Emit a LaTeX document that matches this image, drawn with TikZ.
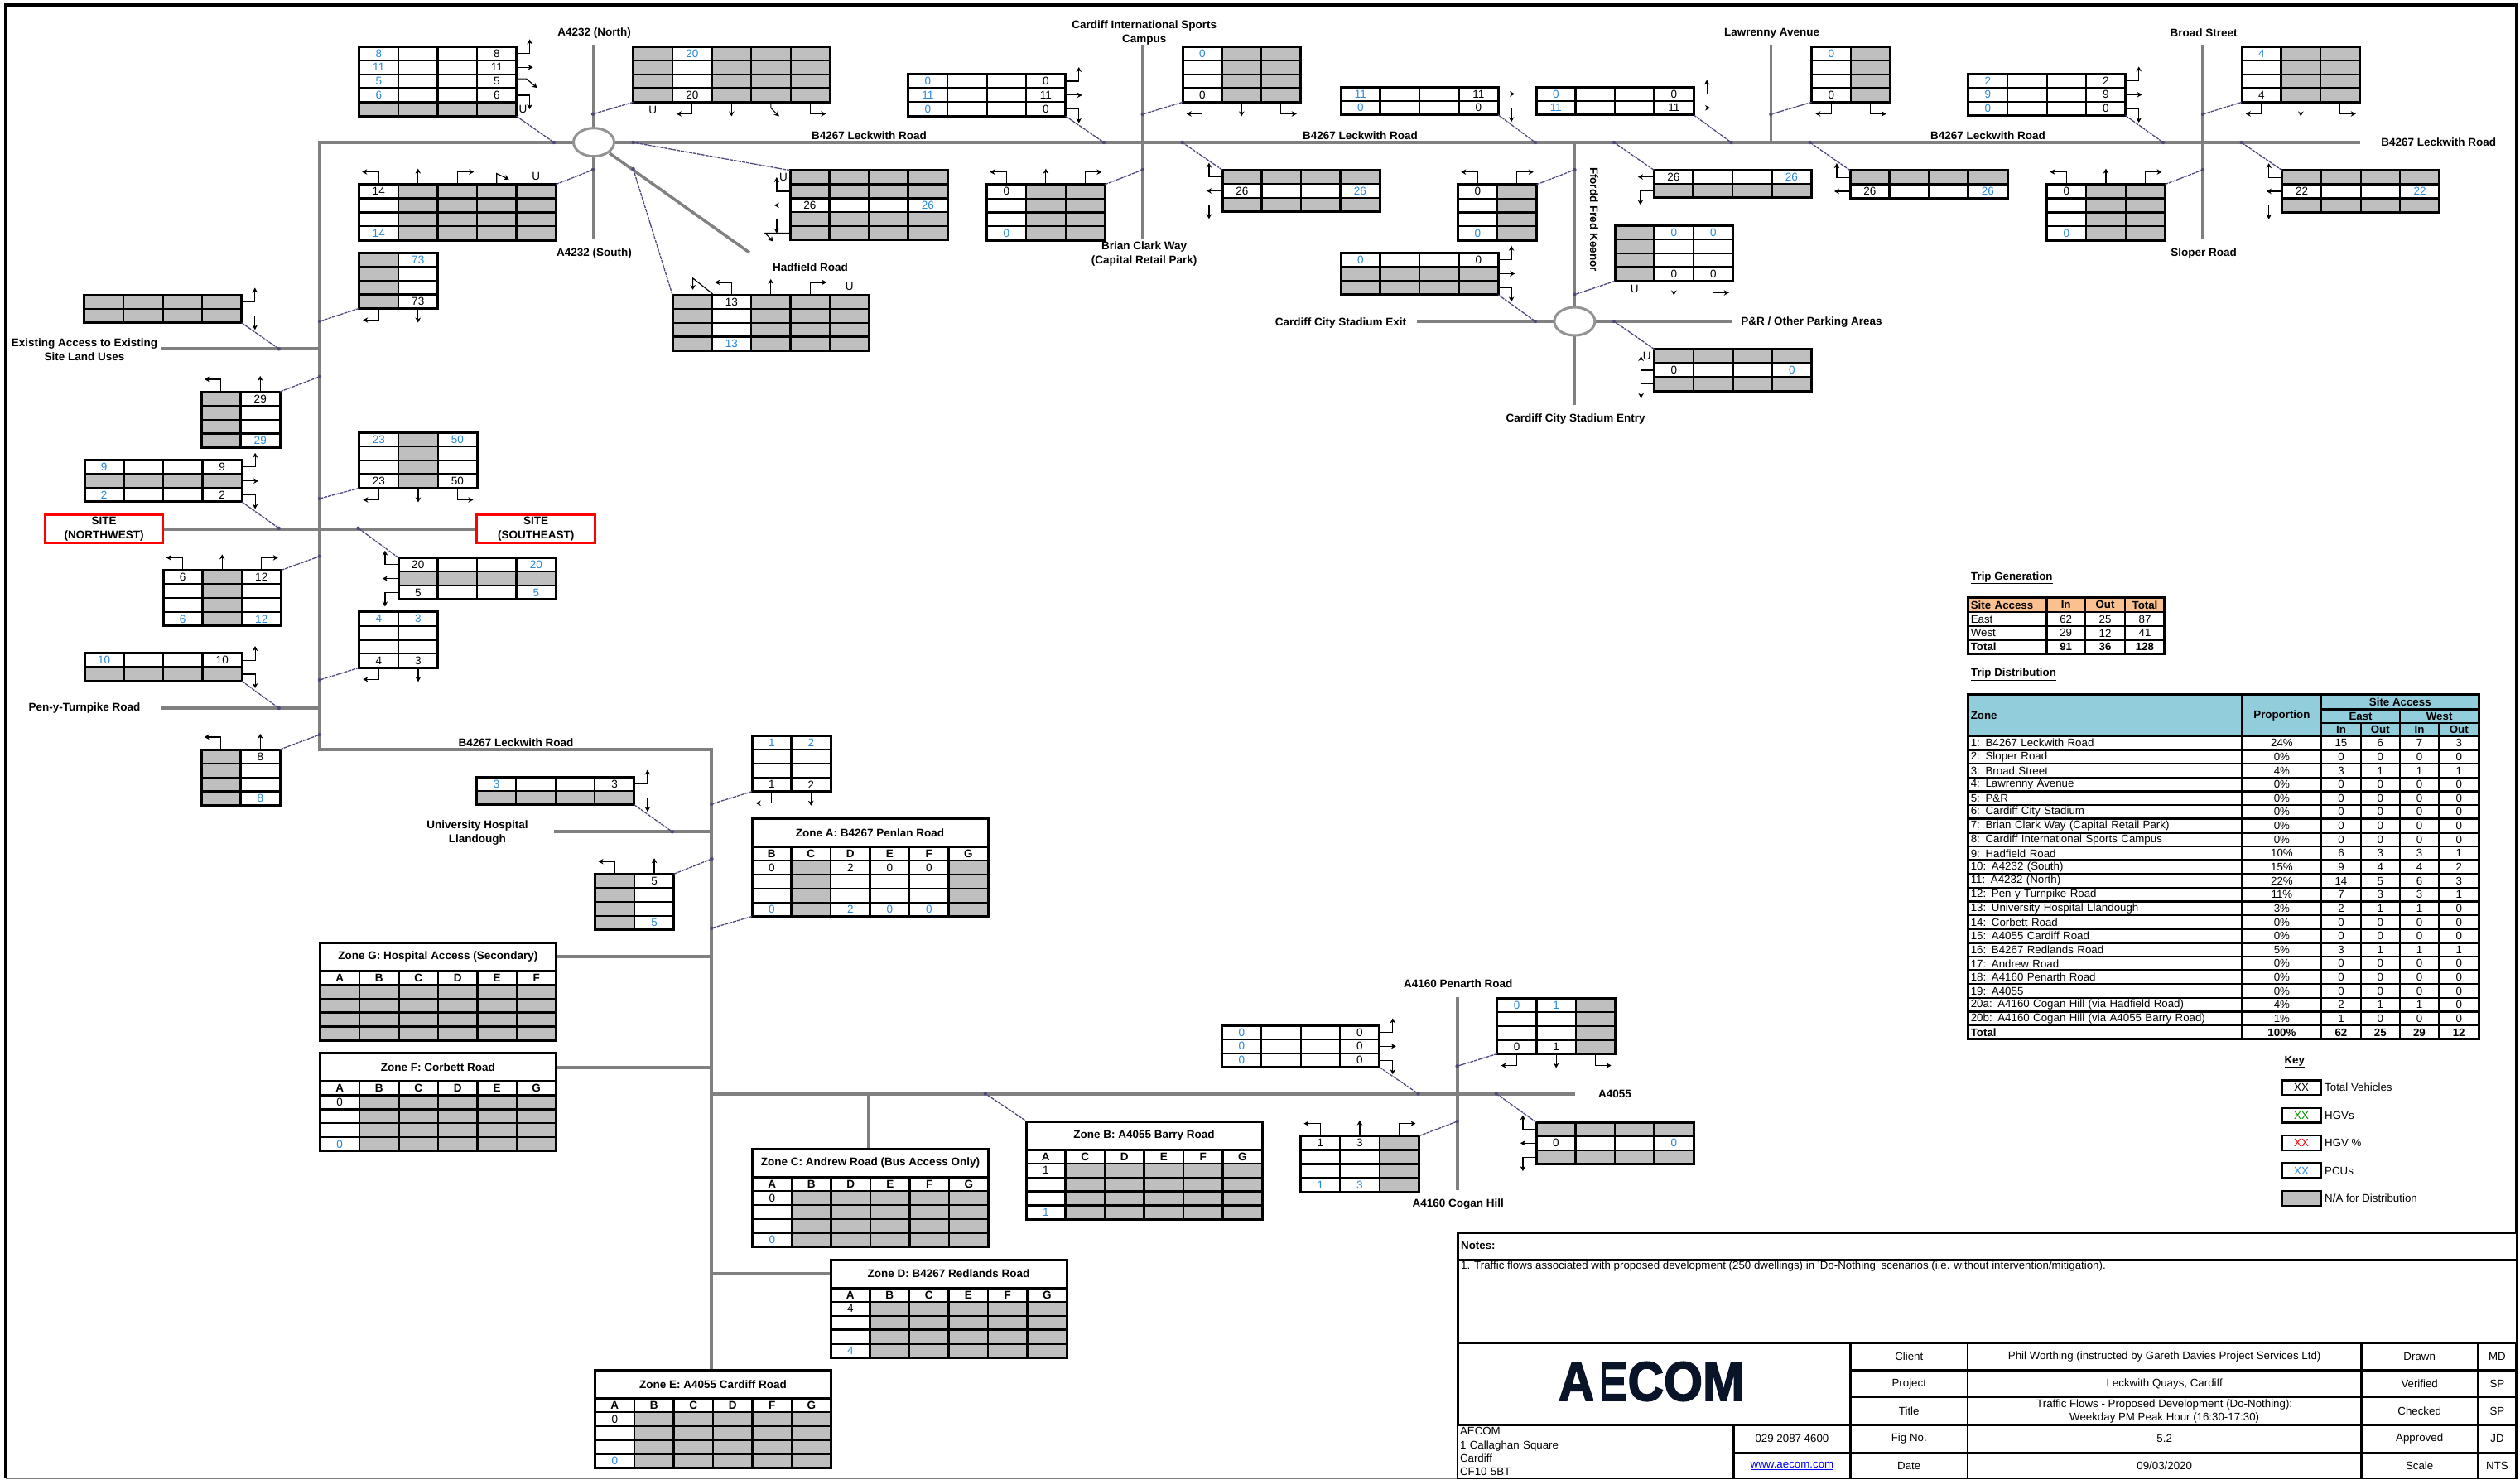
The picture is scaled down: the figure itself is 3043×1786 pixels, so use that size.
\documentclass[tikz,border=0pt]{standalone}
\usepackage{fontspec}
\usepackage{graphicx}
\setmainfont{Liberation Sans}
\newfontfamily\logofont[BoldFeatures={FakeBold=2.5}]{Liberation Sans}
\usetikzlibrary{arrows.meta,shapes.geometric,calc}
\definecolor{roadc}{HTML}{808080}
\definecolor{cellgrey}{HTML}{BFBFBF}
\definecolor{flowblue}{HTML}{2A88DC}
\definecolor{leadc}{HTML}{54457A}
\definecolor{hdrorange}{HTML}{FAC090}
\definecolor{hdrblue}{HTML}{92CDDC}
\definecolor{logoc}{HTML}{0A1428}
\newcommand\fs{\fontsize{13.5}{17}\selectfont}
\newcommand\fsb{\fontsize{13.3}{16}\selectfont}
\def\cw{47.5}\def\rh{16.85}
\tikzset{
 road/.style={draw=roadc,line width=4pt},
 rabout/.style={ellipse,draw=roadc!85,line width=3pt,fill=white,inner sep=0pt,minimum width=49pt,minimum height=34pt},
 leader/.style={draw=leadc,line width=1.3pt,dash pattern=on 4pt off 1pt},
 tarr/.style={draw=black,line width=1.2pt,-{Stealth[length=6pt,width=6.5pt]}},
 cell/.style={draw=black,line width=2.2pt,inner sep=0pt,minimum width=\cw pt,minimum height=\rh pt,font=\fs},
 cellg/.style={fill=cellgrey},
 cellw/.style={fill=white},
 cellk/.style={fill=white,text=black},
 cellb/.style={fill=white,text=flowblue},
 cellh/.style={fill=white,font=\fs\bfseries},
 tblbox/.style={draw=black,line width=3pt,inner sep=0pt,outer sep=0pt},
 lbl/.style={font=\fs\bfseries,align=center,inner sep=0pt},
 ulab/.style={font=\fs,inner sep=0pt},
 boxc/.style={draw=black,line width=2.4pt,inner sep=0pt,font=\fsb,align=center},
 lefttxt/.style={text width=\bw pt-6pt,inner xsep=3pt,align=left},
 sitebox/.style={draw=red,line width=2.5pt,fill=white,inner sep=0pt,font=\fs\bfseries,align=center,minimum width=143pt,minimum height=34pt},
 keybox/.style={boxc,line width=2.8pt},
 plain/.style={font=\fsb,inner sep=0pt},
}
\def\pcell#1#2\relax{\def\ctxt{#2}\ifx#1g\def\cst{cellg}\fi\ifx#1w\def\cst{cellw}\fi\ifx#1K\def\cst{cellk}\fi\ifx#1B\def\cst{cellb}\fi\ifx#1H\def\cst{cellh}\fi}
% name, x, y, cols, rows, data
\newcommand\tbl[6]{%
 \foreach \rw [count=\ri] in {#6} {%
  \foreach \cl [count=\ci] in \rw {%
   \edef\tmpc{\cl}\expandafter\pcell\tmpc\relax
   \node[cell,\cst] (#1-\ri-\ci) at ({#2+(\ci-.5)*\cw},{#3+(\ri-.5)*\rh}) {\ctxt};
  }%
 }%
 \node[tblbox,minimum width=#4*\cw pt,minimum height=#5*\rh pt] (#1) at ({#2+#4*\cw/2},{#3+#5*\rh/2}) {};
}
% optional style, name, x1,y1,x2,y2, text
\newcommand\bx[7][]{%
 \pgfmathsetmacro\bw{#5-#3}\pgfmathsetmacro\bh{#6-#4}%
 \node[boxc,minimum width=\bw pt,minimum height=\bh pt,#1] (#2) at ({(#3+#5)/2},{(#4+#6)/2}) {#7};
}
% name, x, y, title, rows (head row first)
\newcommand\zone[5]{%
 \bx[font=\fs\bfseries,line width=3pt,fill=white]{#1-t}{#2}{#3}{#2+6*\cw}{#3+34}{#4}
 \tbl{#1}{#2}{#3+34}{6}{5}{#5}
}
\newcommand\RU[1]{\draw[tarr] (#1.east) -- ++(15,0) -- ++(0,-17);}
\newcommand\RS[1]{\draw[tarr] (#1.east) -- ++(19,0);}
\newcommand\RD[1]{\draw[tarr] (#1.east) -- ++(15,0) -- ++(0,17);}
\newcommand\RG[1]{\draw[tarr] ([yshift=3pt]#1.east) -- ++(11,0) -- ++(13,11);}
\newcommand\BL[1]{\draw[tarr] (#1.south) -- ++(0,13) -- ++(-19,0);}
\newcommand\BS[1]{\draw[tarr] (#1.south) -- ++(0,16);}
\newcommand\BR[1]{\draw[tarr] (#1.south) -- ++(0,13) -- ++(19,0);}
\newcommand\BG[1]{\draw[tarr] (#1.south) -- ++(0,6) -- ++(10,10);}
\newcommand\TL[1]{\draw[tarr] (#1.north) -- ++(0,-14) -- ++(-20,0);}
\newcommand\TS[1]{\draw[tarr] (#1.north) -- ++(0,-18);}
\newcommand\TR[1]{\draw[tarr] (#1.north) -- ++(0,-14) -- ++(20,0);}
\newcommand\TG[1]{\draw[tarr] (#1.north) -- ++(0,-12) -- ++(15,7);}
\newcommand\LU[1]{\draw[tarr] (#1.west) -- ++(-15,0) -- ++(0,-17);}
\newcommand\LS[1]{\draw[tarr] (#1.west) -- ++(-18,0);}
\newcommand\LD[1]{\draw[tarr] (#1.west) -- ++(-15,0) -- ++(0,17);}
\newcommand\LG[1]{\draw[tarr] (#1.west) -- ++(-29,0) -- ++(10,10);}
\newcommand\lead[4]{\coordinate (#1) at (#3,#4); \draw[leader] (#2) -- (#1); \fill[leadc] (#1) circle (2.2pt);}
\begin{document}
\begin{tikzpicture}[x=1pt,y=-1pt]
\useasboundingbox (0,0) rectangle (3043,1786);
\fill[white] (0,0) rectangle (3043,1786);
% frame
\draw[line width=4pt,black] (7,1785) -- (7,6) -- (3039,6) -- (3039,1785);
\draw[line width=1.5pt,gray] (7,1785) -- (3039,1785);
% road ends
\coordinate (bw) at (386,172); \coordinate (be) at (2850,172);
\coordinate (bs) at (386,904.5); \coordinate (bc) at (859.4,904.5); \coordinate (zet) at (859.4,1654);
\coordinate (an) at (717,54); \coordinate (as) at (717,289);
\coordinate (hs) at (736,185); \coordinate (he) at (905,305);
\coordinate (sn) at (1379.7,54); \coordinate (ss) at (1379.7,288);
\coordinate (fn) at (1901.4,172); \coordinate (fs) at (1901.4,488.5);
\coordinate (xw) at (1711,388); \coordinate (xe) at (2091.7,388);
\coordinate (ln) at (2138.4,54); \coordinate (ls) at (2138.4,172);
\coordinate (gn) at (2660,54); \coordinate (gs) at (2660,288);
\coordinate (ew) at (194.3,421.3); \coordinate (ee) at (386,421.3);
\coordinate (pw) at (194.4,855); \coordinate (pe) at (386,855);
\coordinate (uw) at (668.8,1004.3); \coordinate (ue) at (859.4,1004.3);
\coordinate (ge) at (859.4,1154); \coordinate (fe) at (859.4,1287);
\coordinate (aw) at (859.4,1320.5); \coordinate (ae) at (1901.8,1320.5);
\coordinate (cj) at (1048.9,1320.5); \coordinate (de) at (859.4,1536.7);
\coordinate (tn) at (1759.6,1204); \coordinate (ts) at (1759.6,1436.7);
% roads
\draw[road] (be) -- (bw) -- (bs) -- (bc) -- (zet);
\draw[road,line width=3.5pt] (an) -- (as);
\draw[road,line width=3.5pt] (hs) -- (he);
\draw[road,line width=3.5pt] (sn) -- (ss);
\draw[road,line width=3.5pt] (fn) -- (fs);
\draw[road] (xw) -- (xe);
\draw[road,line width=3.5pt] (ln) -- (ls);
\draw[road,line width=3.5pt] (gn) -- (gs);
\draw[road] (ew) -- (ee);
\draw[road] (pw) -- (pe);
\draw[road] (uw) -- (ue);
\draw[road] (aw) -- (ae);
\draw[road,line width=3.5pt] (cj) -- (1048.9,1387.3);
\draw[road] (tn) -- (ts);
\node[rabout] (ra1) at (717,171.7) {};
\node[rabout] (ra2) at (1901.4,388) {};
% sites
\node[sitebox] (siteNW) at (125.7,638.6) {SITE\\(NORTHWEST)};
\node[sitebox] (siteSE) at (647.2,638.6) {SITE\\(SOUTHEAST)};
\draw[road] (siteNW) -- (siteSE);
% tables
\tbl{T1}{433.5}{56}{4}{5}{{B8,w,w,K8},{B11,w,w,K11},{B5,w,w,K5},{B6,w,w,K6},{g,g,g,g}}
\RU{T1-1-4}\RS{T1-2-4}\RG{T1-3-4}\RD{T1-4-4}
\node[ulab] (U1) at ([xshift=7pt]T1-5-4.east) {U};
\tbl{T2}{764.6}{56}{5}{4}{{g,B20,g,g,g},{g,w,g,g,g},{g,w,g,g,g},{g,K20,g,g,g}}
\BL{T2-4-2}\BS{T2-4-3}\BG{T2-4-4}\BR{T2-4-5}
\node[ulab] (U2) at ([yshift=-8.5pt]T2-4-1.south) {U};
\tbl{T3}{433.5}{222.7}{5}{4}{{K14,g,g,g,g},{w,g,g,g,g},{w,g,g,g,g},{B14,g,g,g,g}}
\TL{T3-1-1}\TS{T3-1-2}\TR{T3-1-3}\TG{T3-1-4}
\node[ulab] (U3) at ([yshift=8.5pt]T3-1-5.north) {U};
\tbl{T4}{433.5}{305}{2}{4}{{g,B73},{g,w},{g,w},{g,K73}}
\BL{T4-4-1}\BS{T4-4-2}
\tbl{T5}{954}{205.7}{4}{5}{{g,g,g,g},{g,g,g,g},{K26,w,w,B26},{g,g,g,g},{g,g,g,g}}
\LU{T5-2-1}\LS{T5-3-1}\LD{T5-4-1}\LG{T5-5-1}
\node[ulab] (U5) at ([xshift=-7pt]T5-1-1.west) {U};
\tbl{T6}{812}{356}{5}{4}{{g,K13,g,g,g},{g,w,g,g,g},{g,w,g,g,g},{g,B13,g,g,g}}
\draw[tarr] (T6-1-1.north east) -- ++(-24,-19) -- ++(0,14);
\TL{T6-1-2}\TS{T6-1-3}\TR{T6-1-4}
\node[ulab] (U6) at ([yshift=8.5pt]T6-1-5.north) {U};
\tbl{T7}{101.7}{356}{4}{2}{{g,g,g,g},{g,g,g,g}}
\RU{T7-1-4}\RD{T7-2-4}
\tbl{T8}{1096.6}{89.6}{4}{3}{{B0,w,w,K0},{B11,w,w,K11},{B0,w,w,K0}}
\RU{T8-1-4}\RS{T8-2-4}\RD{T8-3-4}
\tbl{T9}{1428}{56}{3}{4}{{B0,g,g},{w,g,g},{w,g,g},{K0,g,g}}
\BL{T9-4-1}\BS{T9-4-2}\BR{T9-4-3}
\tbl{T10}{1191.6}{222.8}{3}{4}{{K0,g,g},{w,g,g},{w,g,g},{B0,g,g}}
\TL{T10-1-1}\TS{T10-1-2}\TR{T10-1-3}
\tbl{T11}{1476}{205.2}{4}{3}{{g,g,g,g},{K26,w,w,B26},{g,g,g,g}}
\LU{T11-1-1}\LS{T11-2-1}\LD{T11-3-1}
\tbl{T12}{1619}{105}{4}{2}{{B11,w,w,K11},{B0,w,w,K0}}
\RS{T12-1-4}\RD{T12-2-4}
\tbl{T13}{1855}{105}{4}{2}{{B0,w,w,K0},{B11,w,w,K11}}
\RU{T13-1-4}\RS{T13-2-4}
\tbl{T14}{1760.5}{222.8}{2}{4}{{K0,g},{w,g},{w,g},{B0,g}}
\TL{T14-1-1}\TR{T14-1-2}
\tbl{T15}{1619}{305.3}{4}{3}{{B0,w,w,K0},{g,g,g,g},{g,g,g,g}}
\RU{T15-1-4}\RS{T15-2-4}\RD{T15-3-4}
\tbl{T16}{1950}{272}{3}{4}{{g,B0,B0},{g,w,w},{g,w,w},{g,K0,K0}}
\BS{T16-4-2}\BR{T16-4-3}
\node[ulab] (U16) at ([yshift=-8.5pt]T16-4-1.south) {U};
\tbl{T17}{1997}{205.2}{4}{2}{{K26,w,w,B26},{g,g,g,g}}
\LS{T17-1-1}\LD{T17-2-1}
\tbl{T18}{1997.7}{421.7}{4}{3}{{g,g,g,g},{K0,w,w,B0},{g,g,g,g}}
\LU{T18-2-1}\LD{T18-3-1}
\node[ulab] (U18) at ([xshift=-8pt]T18-1-1.west) {U};
\tbl{T19}{2187.6}{56}{2}{4}{{B0,g},{w,g},{w,g},{K0,g}}
\BL{T19-4-1}\BR{T19-4-2}
\tbl{T20}{2376.6}{89}{4}{3}{{B2,w,w,K2},{B9,w,w,K9},{B0,w,w,K0}}
\RU{T20-1-4}\RS{T20-2-4}\RD{T20-3-4}
\tbl{T21}{2707}{56}{3}{4}{{B4,g,g},{w,g,g},{w,g,g},{K4,g,g}}
\BL{T21-4-1}\BS{T21-4-2}\BR{T21-4-3}
\tbl{T22}{2234}{205.7}{4}{2}{{g,g,g,g},{K26,w,w,B26}}
\LU{T22-1-1}\LS{T22-2-1}
\tbl{T23}{2471.7}{222.7}{3}{4}{{K0,g,g},{w,g,g},{w,g,g},{B0,g,g}}
\TL{T23-1-1}\TS{T23-1-2}\TR{T23-1-3}
\tbl{T24}{2755.8}{205.7}{4}{3}{{g,g,g,g},{K22,w,w,B22},{g,g,g,g}}
\LU{T24-1-1}\LS{T24-2-1}\LD{T24-3-1}
\tbl{T25}{243}{473}{2}{4}{{g,K29},{g,w},{g,w},{g,B29}}
\TL{T25-1-1}\TS{T25-1-2}
\tbl{T26}{102}{555.4}{4}{3}{{B9,w,w,K9},{g,g,g,g},{B2,w,w,K2}}
\RU{T26-1-4}\RS{T26-2-4}\RD{T26-3-4}
\tbl{T27}{433.7}{522}{3}{4}{{B23,g,B50},{w,g,w},{w,g,w},{K23,g,K50}}
\BL{T27-4-1}\BS{T27-4-2}\BR{T27-4-3}
\tbl{T28}{197}{688.5}{3}{4}{{K6,g,K12},{w,g,w},{w,g,w},{B6,g,B12}}
\TL{T28-1-1}\TS{T28-1-2}\TR{T28-1-3}
\tbl{T29}{481}{673.3}{4}{3}{{K20,w,w,B20},{g,g,g,g},{K5,w,w,B5}}
\LU{T29-1-1}\LS{T29-2-1}\LD{T29-3-1}
\tbl{T30}{433.7}{738.8}{2}{4}{{B4,B3},{w,w},{w,w},{K4,K3}}
\BL{T30-4-1}\BS{T30-4-2}
\tbl{T31}{102}{788.7}{4}{2}{{B10,w,w,K10},{g,g,g,g}}
\RU{T31-1-4}\RD{T31-2-4}
\tbl{T32}{243}{905}{2}{4}{{g,K8},{g,w},{g,w},{g,B8}}
\TL{T32-1-1}\TS{T32-1-2}
\tbl{T34}{908}{888.3}{2}{4}{{B1,B2},{w,w},{w,w},{K1,K2}}
\BL{T34-4-1}\BS{T34-4-2}
\tbl{T35}{575.8}{938}{4}{2}{{B3,w,w,K3},{g,g,g,g}}
\RU{T35-1-4}\RD{T35-2-4}
\tbl{T36}{718.8}{1055.3}{2}{4}{{g,K5},{g,w},{g,w},{g,B5}}
\TL{T36-1-1}\TS{T36-1-2}
\tbl{T37}{1475.7}{1238}{4}{3}{{B0,w,w,K0},{B0,w,w,K0},{B0,w,w,K0}}
\RU{T37-1-4}\RS{T37-2-4}\RD{T37-3-4}
\tbl{T38}{1807.9}{1205}{3}{4}{{B0,B1,g},{w,w,g},{w,w,g},{K0,K1,g}}
\BL{T38-4-1}\BS{T38-4-2}\BR{T38-4-3}
\tbl{T39}{1570.7}{1371.7}{3}{4}{{K1,K3,g},{w,w,g},{w,w,g},{B1,B3,g}}
\TL{T39-1-1}\TS{T39-1-2}\TR{T39-1-3}
\tbl{T40}{1855}{1355}{4}{3}{{g,g,g,g},{K0,w,w,B0},{g,g,g,g}}
\LU{T40-1-1}\LS{T40-2-1}\LD{T40-3-1}
% zones
\zone{ZA}{908}{988.3}{Zone A: B4267 Penlan Road}{{HB,HC,HD,HE,HF,HG},{K0,g,K2,K0,K0,g},{w,g,w,w,w,g},{w,g,w,w,w,g},{B0,g,B2,B0,B0,g}}
\zone{ZG}{386.4}{1138}{Zone G: Hospital Access (Secondary)}{{HA,HB,HC,HD,HE,HF},{g,g,g,g,g,g},{g,g,g,g,g,g},{g,g,g,g,g,g},{g,g,g,g,g,g}}
\zone{ZF}{386.4}{1271.7}{Zone F: Corbett Road}{{HA,HB,HC,HD,HE,HG},{K0,g,g,g,g,g},{w,g,g,g,g,g},{w,g,g,g,g,g},{B0,g,g,g,g,g}}
\zone{ZC}{908.5}{1387.3}{Zone C: Andrew Road (Bus Access Only)}{{HA,HB,HD,HE,HF,HG},{K0,g,g,g,g,g},{w,g,g,g,g,g},{w,g,g,g,g,g},{B0,g,g,g,g,g}}
\zone{ZB}{1239}{1354}{Zone B: A4055 Barry Road}{{HA,HC,HD,HE,HF,HG},{K1,g,g,g,g,g},{w,g,g,g,g,g},{w,g,g,g,g,g},{B1,g,g,g,g,g}}
\zone{ZD}{1003}{1521}{Zone D: B4267 Redlands Road}{{HA,HB,HC,HE,HF,HG},{K4,g,g,g,g,g},{w,g,g,g,g,g},{w,g,g,g,g,g},{B4,g,g,g,g,g}}
\zone{ZE}{718.5}{1654.3}{Zone E: A4055 Cardiff Road}{{HA,HB,HC,HD,HF,HG},{K0,g,g,g,g,g},{w,g,g,g,g,g},{w,g,g,g,g,g},{B0,g,g,g,g,g}}
% zone links
\draw[road] (ZG-t.east) -- (ZG-t.east -| ge);
\draw[road] (ZF-t.east) -- (ZF-t.east -| fe);
\draw[road] (ZD-t.west) -- (ZD-t.west -| de);
% leaders
\lead{d1}{T1.south east}{669}{172}
\lead{d2}{T2.south west}{716}{137.7}
\lead{d3}{T3.north east}{716}{205}
\lead{d5}{T5.north west}{764.6}{172}
\lead{d6}{T6.north west}{764.6}{204}
\lead{d4}{T4.south west}{386}{388}
\lead{d7}{T7.south east}{336.7}{421.3}
\lead{d25}{T25.north east}{386}{454.8}
\lead{d26}{T26.south east}{336.7}{637.8}
\lead{d27}{T27.south west}{386}{602}
\lead{d29}{T29.north west}{432.6}{637.8}
\lead{d28}{T28.north east}{386}{671.6}
\lead{d30}{T30.south west}{386}{821}
\lead{d31}{T31.south east}{336.7}{855}
\lead{d32}{T32.north east}{386}{887}
\lead{d8}{T8.south east}{1333}{172}
\lead{d9}{T9.south west}{1379.7}{138}
\lead{d10}{T10.north east}{1379.7}{205}
\lead{d11}{T11.north west}{1427.6}{172}
\lead{d12}{T12.south east}{1854}{172}
\lead{d17}{T17.north west}{1949}{172}
\lead{d13}{T13.south east}{2090.5}{172}
\lead{d14}{T14.north east}{1901.4}{205}
\lead{d15}{T15.south east}{1854}{388}
\lead{d16}{T16.south west}{1901.4}{355.6}
\lead{d18}{T18.north west}{1949}{388}
\lead{d19}{T19.south west}{2138.4}{138}
\lead{d22}{T22.north west}{2185.6}{172}
\lead{d20}{T20.south east}{2612}{172}
\lead{d21}{T21.south west}{2660}{138}
\lead{d23}{T23.north east}{2660}{205}
\lead{d24}{T24.north west}{2706.6}{172}
\lead{d35}{T35.south east}{811.8}{1004.3}
\lead{d34}{T34.south west}{859.4}{970.7}
\lead{d36}{T36.north east}{859.4}{1037}
\lead{dza}{ZA.south west}{859.4}{1120.7}
\lead{dzb}{ZB-t.north west}{1189.8}{1320.5}
\lead{d37}{T37.south east}{1712.5}{1320.5}
\lead{d38}{T38.south west}{1759.6}{1287.3}
\lead{d39}{T39.north east}{1759.6}{1354}
\lead{d40}{T40.north west}{1806.8}{1320.5}
% road labels
\node[lbl] (l1) at (717.6,40) {A4232 (North)};
\node[lbl] (l2) at (717.6,305.7) {A4232 (South)};
\node[lbl] (l3) at (978.6,322.7) {Hadfield Road};
\node[lbl] (l4) at (1049.6,164) {B4267 Leckwith Road};
\node[lbl] (l5) at (1642.5,164) {B4267 Leckwith Road};
\node[lbl] (l6) at (2400.5,164) {B4267 Leckwith Road};
\node[lbl] (l7) at (2944.8,172) {B4267 Leckwith Road};
\node[lbl] (l8) at (623,896.7) {B4267 Leckwith Road};
\node[lbl] (l9) at (1381.7,39.5) {Cardiff International Sports\\Campus};
\node[lbl] (l10) at (1381.7,306.5) {Brian Clark Way\\(Capital Retail Park)};
\node[lbl] (l11) at (2139.7,40) {Lawrenny Avenue};
\node[lbl] (l12) at (2661,40) {Broad Street};
\node[lbl] (l13) at (2661,305.7) {Sloper Road};
\node[lbl,rotate=-90] (l14) at (1925,265) {Ffordd Fred Keenor};
\node[lbl] (l15) at (1619,389.8) {Cardiff City Stadium Exit};
\node[lbl] (l16) at (1902.7,506) {Cardiff City Stadium Entry};
\node[lbl] (l17) at (2187.5,389) {P\&R / Other Parking Areas};
\node[lbl] (l18) at (102,422.5) {Existing Access to Existing\\Site Land Uses};
\node[lbl] (l19) at (102,855) {Pen-y-Turnpike Road};
\node[lbl] (l20) at (576.4,1005.3) {University Hospital\\Llandough};
\node[lbl] (l21) at (1760.7,1188) {A4160 Penarth Road};
\node[lbl] (l22) at (1760.7,1454) {A4160 Cogan Hill};
\node[lbl] (l23) at (1950,1320.7) {A4055};
% Trip Generation
\node[plain,anchor=west,font=\fsb\bfseries] (tgh) at (2380,698) {\underline{Trip Generation}};
\bx[fill=hdrorange,lefttxt,font=\fsb\bfseries]{g00}{2376.8}{721.7}{2471.5}{738.9}{Site Access}
\bx[fill=hdrorange,font=\fsb\bfseries]{g01}{2471.5}{721.7}{2517.8}{738.9}{In}
\bx[fill=hdrorange,font=\fsb\bfseries]{g02}{2517.8}{721.7}{2566.2}{738.9}{Out}
\bx[fill=hdrorange,font=\fsb\bfseries]{g03}{2566.2}{721.7}{2613.8}{738.9}{Total}
\bx[lefttxt]{g10}{2376.8}{738.9}{2471.5}{756.1}{East}
\bx{g11}{2471.5}{738.9}{2517.8}{756.1}{62}
\bx{g12}{2517.8}{738.9}{2566.2}{756.1}{25}
\bx{g13}{2566.2}{738.9}{2613.8}{756.1}{87}
\bx[lefttxt]{g20}{2376.8}{756.1}{2471.5}{772.6}{West}
\bx{g21}{2471.5}{756.1}{2517.8}{772.6}{29}
\bx{g22}{2517.8}{756.1}{2566.2}{772.6}{12}
\bx{g23}{2566.2}{756.1}{2613.8}{772.6}{41}
\bx[lefttxt,font=\fsb\bfseries]{g30}{2376.8}{772.6}{2471.5}{789.4}{Total}
\bx[font=\fsb\bfseries]{g31}{2471.5}{772.6}{2517.8}{789.4}{91}
\bx[font=\fsb\bfseries]{g32}{2517.8}{772.6}{2566.2}{789.4}{36}
\bx[font=\fsb\bfseries]{g33}{2566.2}{772.6}{2613.8}{789.4}{128}
\node[draw=black,line width=3pt,inner sep=0pt,minimum width=237pt,minimum height=67.7pt] (tgbox) at (2495.3,755.55) {};
% Trip Distribution
\node[plain,anchor=west,font=\fsb\bfseries] (tdh) at (2380,814.3) {\underline{Trip Distribution}};
\bx[fill=hdrblue,lefttxt,font=\fsb\bfseries]{dz}{2376.8}{838.4}{2707.6}{888.9}{Zone}
\bx[fill=hdrblue,font=\fsb\bfseries]{dp}{2707.6}{838.4}{2803.2}{888.9}{Proportion}
\bx[fill=hdrblue,font=\fsb\bfseries]{dsa}{2803.2}{838.4}{2993.4}{856.4}{Site Access}
\bx[fill=hdrblue,font=\fsb\bfseries]{dea}{2803.2}{856.4}{2897.9}{872.8}{East}
\bx[fill=hdrblue,font=\fsb\bfseries]{dwe}{2897.9}{856.4}{2993.4}{872.8}{West}
\bx[fill=hdrblue,font=\fsb\bfseries]{di1}{2803.2}{872.8}{2850.7}{888.9}{In}
\bx[fill=hdrblue,font=\fsb\bfseries]{do1}{2850.7}{872.8}{2897.9}{888.9}{Out}
\bx[fill=hdrblue,font=\fsb\bfseries]{di2}{2897.9}{872.8}{2945}{888.9}{In}
\bx[fill=hdrblue,font=\fsb\bfseries]{do2}{2945}{872.8}{2993.4}{888.9}{Out}
\foreach \z/\p/\a/\b/\c/\d [count=\i] in {
1: B4267 Leckwith Road/24\%/15/6/7/3,
2: Sloper Road/0\%/0/0/0/0,
3: Broad Street/4\%/3/1/1/1,
4: Lawrenny Avenue/0\%/0/0/0/0,
5: P\&R/0\%/0/0/0/0,
6: Cardiff City Stadium/0\%/0/0/0/0,
7: Brian Clark Way (Capital Retail Park)/0\%/0/0/0/0,
8: Cardiff International Sports Campus/0\%/0/0/0/0,
9: Hadfield Road/10\%/6/3/3/1,
10: A4232 (South)/15\%/9/4/4/2,
11: A4232 (North)/22\%/14/5/6/3,
12: Pen-y-Turnpike Road/11\%/7/3/3/1,
13: University Hospital Llandough/3\%/2/1/1/0,
14: Corbett Road/0\%/0/0/0/0,
15: A4055 Cardiff Road/0\%/0/0/0/0,
16: B4267 Redlands Road/5\%/3/1/1/1,
17: Andrew Road/0\%/0/0/0/0,
18: A4160 Penarth Road/0\%/0/0/0/0,
19: A4055/0\%/0/0/0/0,
20a: A4160 Cogan Hill (via Hadfield Road)/4\%/2/1/1/0,
20b: A4160 Cogan Hill (via A4055 Barry Road)/1\%/1/0/0/0}{
 \pgfmathsetmacro\ya{888.9+16.63*(\i-1)}\pgfmathsetmacro\yb{\ya+16.63}
 \bx[lefttxt]{dn\i}{2376.8}{\ya}{2707.6}{\yb}{\z}
 \bx{dq\i}{2707.6}{\ya}{2803.2}{\yb}{\p}
 \bx{da\i}{2803.2}{\ya}{2850.7}{\yb}{\a}
 \bx{db\i}{2850.7}{\ya}{2897.9}{\yb}{\b}
 \bx{dc\i}{2897.9}{\ya}{2945}{\yb}{\c}
 \bx{dd\i}{2945}{\ya}{2993.4}{\yb}{\d}
}
\bx[lefttxt,font=\fsb\bfseries]{dnT}{2376.8}{1238.1}{2707.6}{1254.8}{Total}
\bx[font=\fsb\bfseries]{dqT}{2707.6}{1238.1}{2803.2}{1254.8}{100\%}
\bx[font=\fsb\bfseries]{daT}{2803.2}{1238.1}{2850.7}{1254.8}{62}
\bx[font=\fsb\bfseries]{dbT}{2850.7}{1238.1}{2897.9}{1254.8}{25}
\bx[font=\fsb\bfseries]{dcT}{2897.9}{1238.1}{2945}{1254.8}{29}
\bx[font=\fsb\bfseries]{ddT}{2945}{1238.1}{2993.4}{1254.8}{12}
\node[draw=black,line width=3pt,inner sep=0pt,minimum width=616.6pt,minimum height=416.4pt] (tdbox) at (2685.1,1046.6) {};
% Key
\node[plain,font=\fsb\bfseries] (kh) at (2770.7,1281.8) {\underline{Key}};
\bx[keybox]{k1}{2755.8}{1304.6}{2802.3}{1322}{XX}
\bx[keybox,text=green!60!black]{k2}{2755.8}{1337.9}{2802.3}{1355.6}{XX}
\bx[keybox,text=red]{k3}{2755.8}{1371}{2802.3}{1389}{XX}
\bx[keybox,text=flowblue]{k4}{2755.8}{1404.6}{2802.3}{1422.4}{XX}
\bx[keybox,fill=cellgrey]{k5}{2755.8}{1438}{2802.3}{1456}{}
\node[plain,anchor=west] (kt1) at (2807,1313) {Total Vehicles};
\node[plain,anchor=west] (kt2) at (2807,1347) {HGVs};
\node[plain,anchor=west] (kt3) at (2807,1380) {HGV \%};
\node[plain,anchor=west] (kt4) at (2807,1414) {PCUs};
\node[plain,anchor=west] (kt5) at (2807,1447) {N/A for Distribution};
% Title block
\bx[line width=3pt,fill=white]{nh}{1760}{1488}{3039}{1521}{}
\bx[line width=3pt,fill=white]{nb}{1760}{1521}{3039}{1621.7}{}
\node[plain,anchor=west,font=\fsb\bfseries] (nht) at (1764,1504) {Notes:};
\node[plain,anchor=west] (nbt) at (1764,1529.5) {1. Traffic flows associated with proposed development (250 dwellings) in 'Do-Nothing' scenarios (i.e. without intervention/mitigation).};
\bx[line width=3pt,fill=white]{logo}{1760}{1621.7}{2234.6}{1720.4}{}
\node[inner sep=0pt,text=logoc,font=\logofont\fontsize{67}{70}\selectfont\bfseries] (aecomlogo) at (1994,1668) {\scalebox{.9}[1]{AECOM}};
\fill[white] (1924,1640) rectangle (1934,1696);
\bx[lefttxt,font=\fontsize{13.3}{16.4}\selectfont]{addr}{1760}{1720.4}{2093.3}{1785}{AECOM\\1 Callaghan Square\\Cardiff\\CF10 5BT}
\bx{tel}{2093.3}{1720.4}{2234.6}{1754.3}{029 2087 4600}
\bx{web}{2093.3}{1754.3}{2234.6}{1785}{\textcolor{blue}{\underline{www.aecom.com}}}
\foreach \ya/\yb/\p/\q/\r/\s [count=\i] in {
1621.7/1654.3/Client/Phil Worthing (instructed by Gareth Davies Project Services Ltd)/Drawn/MD,
1654.3/1686.8/Project/Leckwith Quays{,} Cardiff/Verified/SP,
1686.8/1720.4/Title/{Traffic Flows - Proposed Development (Do-Nothing):\\Weekday PM Peak Hour (16:30-17:30)}/Checked/SP,
1720.4/1754.3/Fig No./5.2/Approved/JD,
1754.3/1785/Date/09{/}03{/}2020/Scale/NTS}{
 \bx{tbp\i}{2234.6}{\ya}{2375.9}{\yb}{\p}
 \bx{tbq\i}{2375.9}{\ya}{2851.4}{\yb}{\q}
 \bx{tbr\i}{2851.4}{\ya}{2991.9}{\yb}{\r}
 \bx{tbs\i}{2991.9}{\ya}{3039}{\yb}{\s}
}
\end{tikzpicture}
\end{document}
